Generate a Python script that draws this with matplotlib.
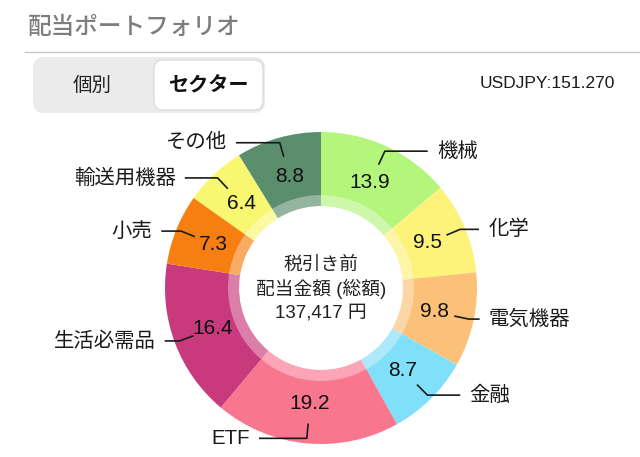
import matplotlib
matplotlib.use("Agg")
import matplotlib.pyplot as plt
import numpy as np
from matplotlib.patches import FancyBboxPatch, Wedge

plt.rcParams["font.family"] = ["Liberation Sans", "Noto Sans CJK JP", "DejaVu Sans"]

# datos del grafico
sectors = ["機械", "化学", "電気機器", "金融", "ETF", "生活必需品", "小売", "輸送用機器", "その他"]
shares = [13.9, 9.5, 9.8, 8.7, 19.2, 16.4, 7.3, 6.4, 8.8]
colors = ["#b4f57c", "#fdf27a", "#fcc178", "#80e0fa", "#f9768f",
          "#c93a7c", "#f77f12", "#f9f76f", "#5a8e6c"]
total_label = "137,417 円"
fx_label = "USDJPY:151.270"

# disposicion (pixeles)
W, H = 640, 457
CX, CY = 321, 288
R_OUT, R_IN = 156, 82
leader_len = [42, 18, 10, 32, 47, 14, 19, 32, 43]


def Y(y):
    return H - y


fig = plt.figure(figsize=(W / 100, H / 100), dpi=100)
ax = fig.add_axes([0, 0, 1, 1])

# cabecera
ax.text(28, Y(28), "配当ポートフォリオ", fontsize=17, color="#7d7d7d",
        fontweight="medium", ha="left", va="center")
ax.plot([25, W], [Y(52), Y(52)], color="#c8c8c8", lw=1)

seg = FancyBboxPatch((33, Y(113)), 232, 56, boxstyle="round,pad=0,rounding_size=11",
                     facecolor="#ebebeb", edgecolor="none")
ax.add_patch(seg)
sel = FancyBboxPatch((154, Y(110)), 109, 50, boxstyle="round,pad=0,rounding_size=9",
                     facecolor="white", edgecolor="#d6d6d6", lw=0.8)
ax.add_patch(sel)
ax.text(92, Y(86), "個別", fontsize=14, color="#222222", ha="center", va="center")
ax.text(208, Y(86), "セクター", fontsize=14.5, color="#111111", fontweight="bold",
        ha="center", va="center")
ax.text(615, Y(84), fx_label, fontsize=12.5, color="#1a1a1a", ha="right", va="center")

# dona
ax.pie(shares, colors=colors, startangle=90, counterclock=False, radius=R_OUT,
       center=(CX, Y(CY)), wedgeprops=dict(width=R_OUT - R_IN, linewidth=0))
ax.add_patch(Wedge((CX, Y(CY)), R_IN + 11, 0, 360, width=11,
                   facecolor="white", alpha=0.35, edgecolor="none"))

ax.text(CX, Y(265), "税引き前", fontsize=13.5, color="#222222", ha="center", va="center")
ax.text(CX, Y(289), "配当金額 (総額)", fontsize=13.5, color="#222222", ha="center", va="center")
ax.text(CX, Y(313), total_label, fontsize=13.5, color="#222222", ha="center", va="center")

# etiquetas y lineas guia
cum = np.cumsum([0] + shares[:-1])
for name, val, c0, ext in zip(sectors, shares, cum, leader_len):
    ang = np.radians((c0 + val / 2) / sum(shares) * 360)
    sx, sy = np.sin(ang), np.cos(ang)
    ax.text(CX + 116 * sx, Y(CY) + 116 * sy, f"{val:.1f}", fontsize=15,
            color="#111111", ha="center", va="center")
    x0, y0 = CX + 137 * sx, Y(CY) + 137 * sy
    x1, y1 = CX + 151 * sx, Y(CY) + 151 * sy
    d = 1 if sx > 0 else -1
    x2 = x1 + d * ext
    ax.plot([x0, x1, x2], [y0, y1, y1], color="#1a1a1a", lw=1.2)
    ax.text(x2 + d * 10, y1, name, fontsize=14.7, color="#1a1a1a",
            ha="left" if d > 0 else "right", va="center")

ax.set_xlim(0, W)
ax.set_ylim(0, H)
ax.set_aspect("auto")
ax.axis("off")
fig.savefig("out.png", dpi=100)
